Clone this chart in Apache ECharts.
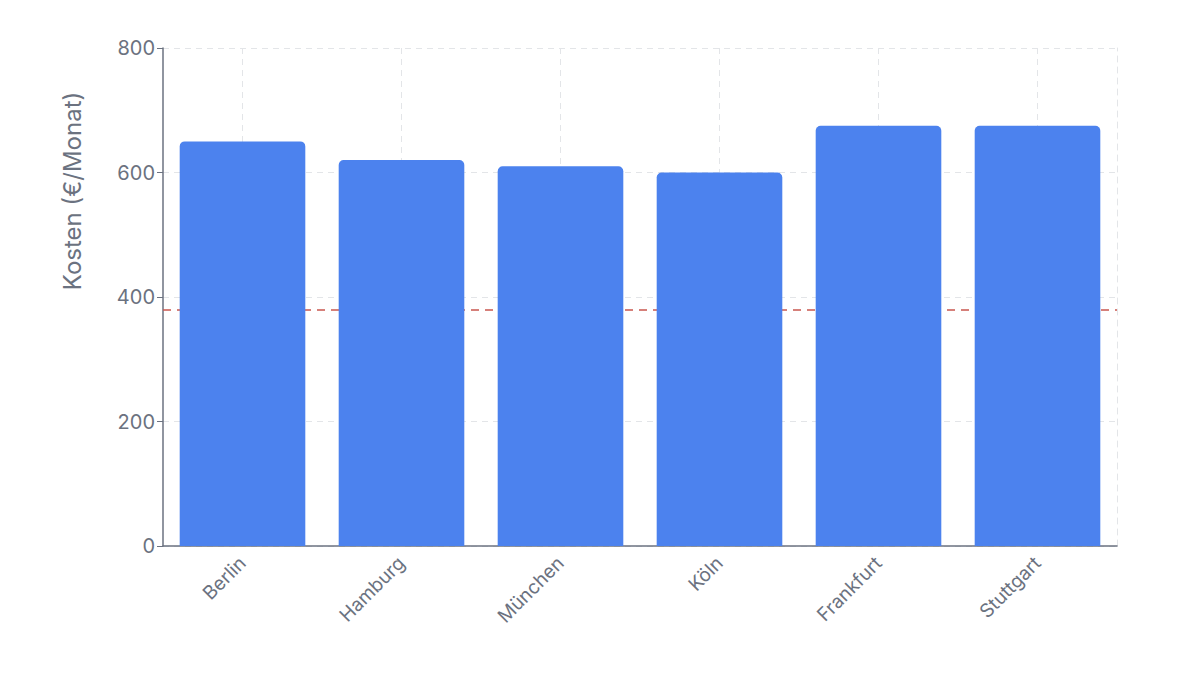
<!DOCTYPE html>
<html><head><meta charset="utf-8">
<script src="https://cdn.jsdelivr.net/npm/echarts@6/dist/echarts.min.js"></script>
<style>html,body{margin:0;padding:0;background:#fff}#c{width:1200px;height:675px}</style>
</head><body><div id="c"></div>
<script>
const cities = ['Berlin', 'Hamburg', 'München', 'Köln', 'Frankfurt', 'Stuttgart'];
const costs = [650, 620, 610, 600, 675, 675];
const referenceValue = 380;
const yTicks = [0, 200, 400, 600, 800];
const yTitle = 'Kosten (€/Monat)';

const chart = echarts.init(document.getElementById('c'), null, {renderer: 'svg'});
const gray = '#6b7280';
const gridGray = '#e3e5e8';
chart.setOption({
  animation: false,
  textStyle: {fontFamily: 'Inter'},
  grid: {left: 163, right: 83, top: 48, bottom: 129},
  xAxis: {
    type: 'category', data: cities,
    axisLine: {lineStyle: {color: gray, width: 1.5}},
    axisTick: {alignWithLabel: true, length: 6, lineStyle: {color: gray}},
    axisLabel: {rotate: 45, color: gray, fontSize: 19, margin: 14, fontFamily: 'Inter'},
    splitLine: {show: true, alignWithLabel: true, lineStyle: {color: gridGray, type: [6, 5], width: 1}}
  },
  yAxis: [{
    type: 'value', min: yTicks[0], max: yTicks[yTicks.length - 1], interval: 200,
    axisLine: {show: true, lineStyle: {color: gray, width: 1.5}},
    axisTick: {show: true, length: 6, lineStyle: {color: gray}},
    axisLabel: {color: gray, fontSize: 20, margin: 8, fontFamily: 'Inter'},
    splitLine: {show: true, lineStyle: {color: gridGray, type: [6, 5], width: 1}}
  }, {
    type: 'value', position: 'right', min: yTicks[0], max: yTicks[yTicks.length - 1], interval: 200,
    axisLine: {show: true, lineStyle: {color: gridGray, type: [6, 5], width: 1}},
    axisTick: {show: false}, axisLabel: {show: false}, splitLine: {show: false}
  }],
  graphic: [{
    type: 'text', x: 72, y: 191, rotation: Math.PI / 2,
    style: {text: yTitle, fill: gray, fontSize: 24, fontFamily: 'Inter', align: 'center', verticalAlign: 'middle'}
  }],
  series: [{
    type: 'bar', data: costs, barCategoryGap: '21%', z: 3,
    itemStyle: {color: '#4c82ee', borderRadius: [5, 5, 0, 0]},
    markLine: {
      silent: true, symbol: 'none', z: 1, label: {show: false},
      lineStyle: {color: '#c9574f', type: [8, 6], width: 1.5},
      data: [{yAxis: referenceValue}]
    }
  }]
});
</script></body></html>
